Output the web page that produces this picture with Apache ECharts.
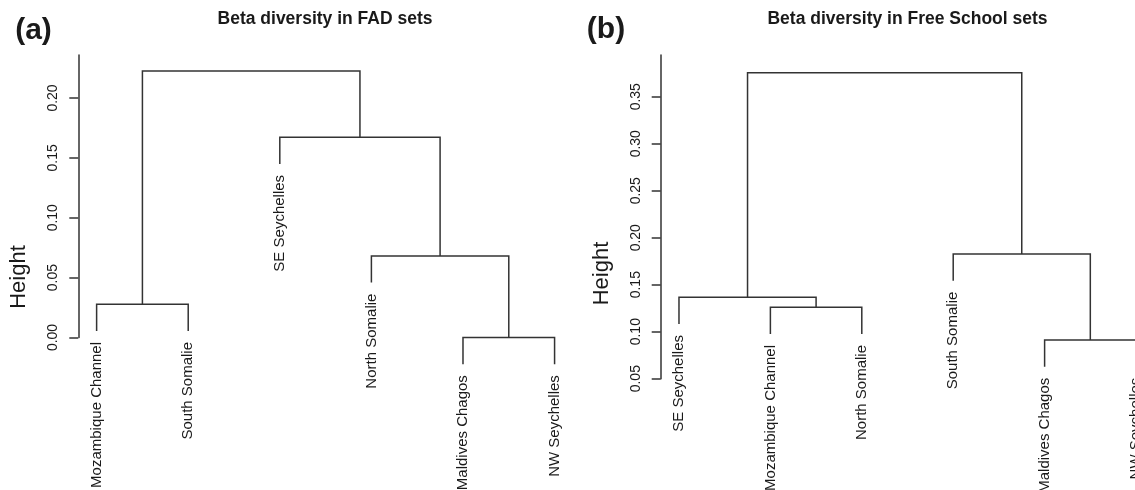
<!DOCTYPE html>
<html><head><meta charset="utf-8">
<script src="https://cdn.jsdelivr.net/npm/echarts@6/dist/echarts.min.js"></script>
<style>html,body{margin:0;padding:0;background:#fff}#c{width:1135px;height:490px}</style>
</head><body><div id="c"></div>
<script>
// Panel (a): FAD sets — leaves in display order, merges (R hclust style), merge heights
const fadLeaves = ['Mozambique Channel','South Somalie','SE Seychelles','North Somalie','Maldives Chagos','NW Seychelles'];
const fadMerge = [[-5,-6],[-1,-2],[-4,1],[-3,3],[2,4]];
const fadHeights = [0.000,0.0277,0.0681,0.1672,0.2225];
const fadTicks = [0,0.05,0.10,0.15,0.20];

// Panel (b): Free School sets
const fsLeaves = ['SE Seychelles','Mozambique Channel','North Somalie','South Somalie','Maldives Chagos','NW Seychelles'];
const fsMerge = [[-5,-6],[-2,-3],[-1,2],[-4,1],[3,4]];
const fsHeights = [0.0912,0.1260,0.1366,0.1827,0.3755];
const fsTicks = [0.05,0.10,0.15,0.20,0.25,0.30,0.35];

const titles = ['Beta diversity in FAD sets','Beta diversity in Free School sets'];
const panelTags = ['(a)','(b)'];
const yName = 'Height';

function dendro(merge, heights, leaves){
  const hang = 0.1*(Math.max(...heights)-Math.min(...heights));
  const links=[]; const leafPts=[]; const pos=[];
  const nx = id => id<0 ? -id : pos[id-1];
  const ny = (id,h) => id<0 ? h-hang : heights[id-1];
  merge.forEach((m,i)=>{
    const h=heights[i];
    const xa=nx(m[0]), xb=nx(m[1]);
    links.push([xa, ny(m[0],h), xb, ny(m[1],h), h]);
    pos[i]=(xa+xb)/2;
    m.forEach(id=>{ if(id<0) leafPts.push({value:[-id, h-hang], name: leaves[-id-1]}); });
  });
  return {links, leafPts};
}
const dA = dendro(fadMerge, fadHeights, fadLeaves);
const dB = dendro(fsMerge, fsHeights, fsLeaves);

const FONT = '"Liberation Sans", Arial, sans-serif';
const LINE = '#333';
const TXT = '#1a1a1a';

function linkSeries(idx, d){
  return {type:'custom', xAxisIndex:idx, yAxisIndex:idx, clip:false, silent:true,
    data:d.links,
    renderItem:(p,api)=>{
      const a=api.coord([api.value(0),api.value(1)]);
      const b=api.coord([api.value(0),api.value(4)]);
      const c=api.coord([api.value(2),api.value(4)]);
      const e=api.coord([api.value(2),api.value(3)]);
      return {type:'polyline', shape:{points:[a,b,c,e]}, style:{stroke:LINE, lineWidth:1.5, fill:null}};
    }};
}
function labelSeries(idx, d){
  return {type:'custom', xAxisIndex:idx, yAxisIndex:idx, clip:false, silent:true,
    data:d.leafPts,
    renderItem:(p,api)=>{
      const pt=api.coord([api.value(0),api.value(1)]);
      return {type:'text', x:pt[0], y:pt[1]+11, rotation:Math.PI/2,
        style:{text:d.leafPts[p.dataIndex].name, align:'right', verticalAlign:'middle',
               font:'15px '+FONT, fill:TXT}};
    }};
}
function yAxis(idx, min, max, ticks){
  return {gridIndex:idx, type:'value', min, max,
    axisLine:{show:true, onZero:false, lineStyle:{color:LINE, width:1.5}},
    axisTick:{show:true, length:9, customValues:ticks, lineStyle:{color:LINE, width:1.5}},
    axisLabel:{show:true, customValues:ticks, rotate:90, margin:18, fontSize:14, fontFamily:FONT, color:TXT,
      formatter:v=>v.toFixed(2)},
    splitLine:{show:false}};
}
function xAxis(idx){
  return {gridIndex:idx, type:'value', min:0.8, max:6.2, show:false};
}

const chart = echarts.init(document.getElementById('c'), null, {renderer:'canvas'});
chart.setOption({
  backgroundColor:'#fff',
  animation:false,
  grid:[
    {left:78.3, top:55, width:494.6, height:282.5, outerBoundsMode:'none', containLabel:false},
    {left:660.7, top:55, width:493.6, height:323.7, outerBoundsMode:'none', containLabel:false}
  ],
  xAxis:[xAxis(0), xAxis(1)],
  yAxis:[yAxis(0, 0, 0.2359, fadTicks), yAxis(1, 0.05, 0.3944, fsTicks)],
  series:[linkSeries(0,dA), labelSeries(0,dA), linkSeries(1,dB), labelSeries(1,dB)],
  graphic:[
    {type:'text', x:325, y:19, style:{text:titles[0], font:'bold 17.5px '+FONT, align:'center', verticalAlign:'middle', fill:TXT}},
    {type:'text', x:907.5, y:19, style:{text:titles[1], font:'bold 17.5px '+FONT, align:'center', verticalAlign:'middle', fill:TXT}},
    {type:'text', x:33.5, y:31, style:{text:panelTags[0], font:'bold 30px '+FONT, align:'center', verticalAlign:'middle', fill:TXT}},
    {type:'text', x:606, y:30, style:{text:panelTags[1], font:'bold 30px '+FONT, align:'center', verticalAlign:'middle', fill:TXT}},
    {type:'text', x:19, y:277, rotation:Math.PI/2, style:{text:yName, font:'22px '+FONT, align:'center', verticalAlign:'middle', fill:TXT}},
    {type:'text', x:602, y:273.5, rotation:Math.PI/2, style:{text:yName, font:'22px '+FONT, align:'center', verticalAlign:'middle', fill:TXT}}
  ]
});
</script></body></html>
